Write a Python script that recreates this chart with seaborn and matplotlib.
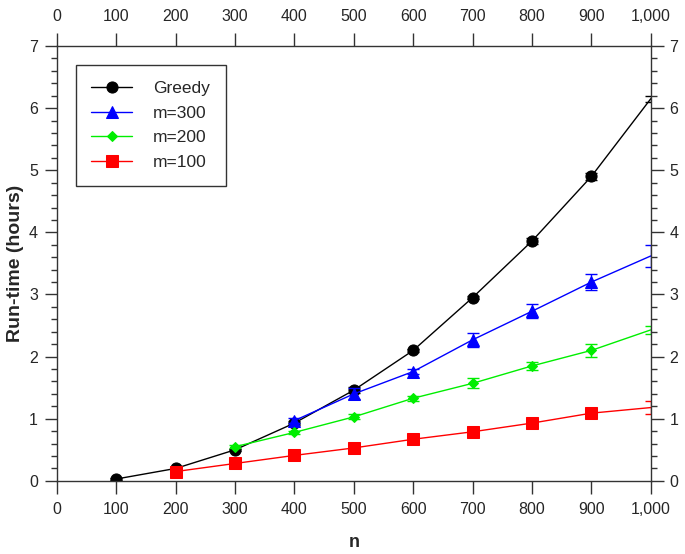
import matplotlib
matplotlib.use("Agg")
import matplotlib.pyplot as plt
import matplotlib.ticker as mticker
import seaborn as sns
import pandas as pd
import numpy as np

# values
greedy_n = [100, 200, 300, 400, 500, 600, 700, 800, 900, 1000]
greedy_t = [0.03, 0.20, 0.50, 0.93, 1.46, 2.10, 2.95, 3.86, 4.90, 6.15]
greedy_err = [0.01, 0.01, 0.02, 0.03, 0.05, 0.03, 0.03, 0.05, 0.06, 0.05]

m300_n = [400, 500, 600, 700, 800, 900, 1000]
m300_t = [0.97, 1.40, 1.76, 2.27, 2.73, 3.20, 3.62]
m300_err = [0.04, 0.09, 0.04, 0.11, 0.11, 0.13, 0.17]

m200_n = [300, 400, 500, 600, 700, 800, 900, 1000]
m200_t = [0.55, 0.78, 1.03, 1.33, 1.57, 1.85, 2.10, 2.43]
m200_err = [0.02, 0.03, 0.04, 0.04, 0.08, 0.06, 0.10, 0.07]

m100_n = [200, 300, 400, 500, 600, 700, 800, 900, 1000]
m100_t = [0.15, 0.28, 0.41, 0.53, 0.67, 0.79, 0.93, 1.09, 1.18]
m100_err = [0.01, 0.01, 0.02, 0.02, 0.02, 0.02, 0.03, 0.03, 0.10]

series = [
    ("Greedy", greedy_n, greedy_t, greedy_err, "black", "o", 8),
    ("m=300", m300_n, m300_t, m300_err, "#0000ff", "^", 8),
    ("m=200", m200_n, m200_t, m200_err, "#00ee00", "D", 5.5),
    ("m=100", m100_n, m100_t, m100_err, "#ff0000", "s", 8),
]

sns.set_style("ticks")
plt.rcParams["font.family"] = ["Liberation Sans", "DejaVu Sans"]
plt.rcParams["font.size"] = 11.5

axis_col = "#333333"

fig = plt.figure(figsize=(6.85, 5.54), dpi=100)
ax = fig.add_axes([0.083, 0.132, 0.867, 0.785])

for name, n, t, err, color, marker, ms in series:
    df = pd.DataFrame({"n": n, "t": t})
    sns.lineplot(data=df, x="n", y="t", ax=ax, color=color, marker=marker,
                 markersize=ms, markeredgecolor=color, linewidth=1.0,
                 markevery=slice(0, len(n) - 1), label=name)
    ax.errorbar(n, t, yerr=err, fmt="none", ecolor=color, elinewidth=1.0,
                capsize=4, capthick=1.0)

ax.set_xlim(0, 1000)
ax.set_ylim(0, 7)
ax.xaxis.set_major_locator(mticker.MultipleLocator(100))
ax.xaxis.set_major_formatter(mticker.StrMethodFormatter("{x:,.0f}"))
ax.yaxis.set_major_locator(mticker.MultipleLocator(1))
ax.yaxis.set_minor_locator(mticker.MultipleLocator(0.2))

ax.tick_params(axis="x", which="major", direction="out", length=9.5, width=1.0,
               color=axis_col, labelsize=11.5, pad=6,
               top=True, labeltop=True)
ax.tick_params(axis="y", which="major", direction="out", length=9, width=1.0,
               color=axis_col, labelsize=11.5, pad=4.5,
               right=True, labelright=True)
ax.tick_params(axis="y", which="minor", direction="out", length=4.5, width=1.0,
               color=axis_col, left=True, right=True)

for sp in ax.spines.values():
    sp.set_visible(True)
    sp.set_linewidth(1.0)
    sp.set_color(axis_col)

ax.set_xlabel("n", fontweight="bold", fontsize=13, labelpad=12)
ax.set_ylabel("Run-time (hours)", fontweight="bold", fontsize=14, labelpad=4)

leg = ax.legend(loc="upper left", bbox_to_anchor=(0.032, 0.956), frameon=True,
                fancybox=False, edgecolor=axis_col, framealpha=1,
                handlelength=2.35, labelspacing=0.55, borderpad=0.9,
                handletextpad=1.2, fontsize=12.5, borderaxespad=0)
leg.get_frame().set_linewidth(1.0)

fig.savefig("out.png", dpi=100)
